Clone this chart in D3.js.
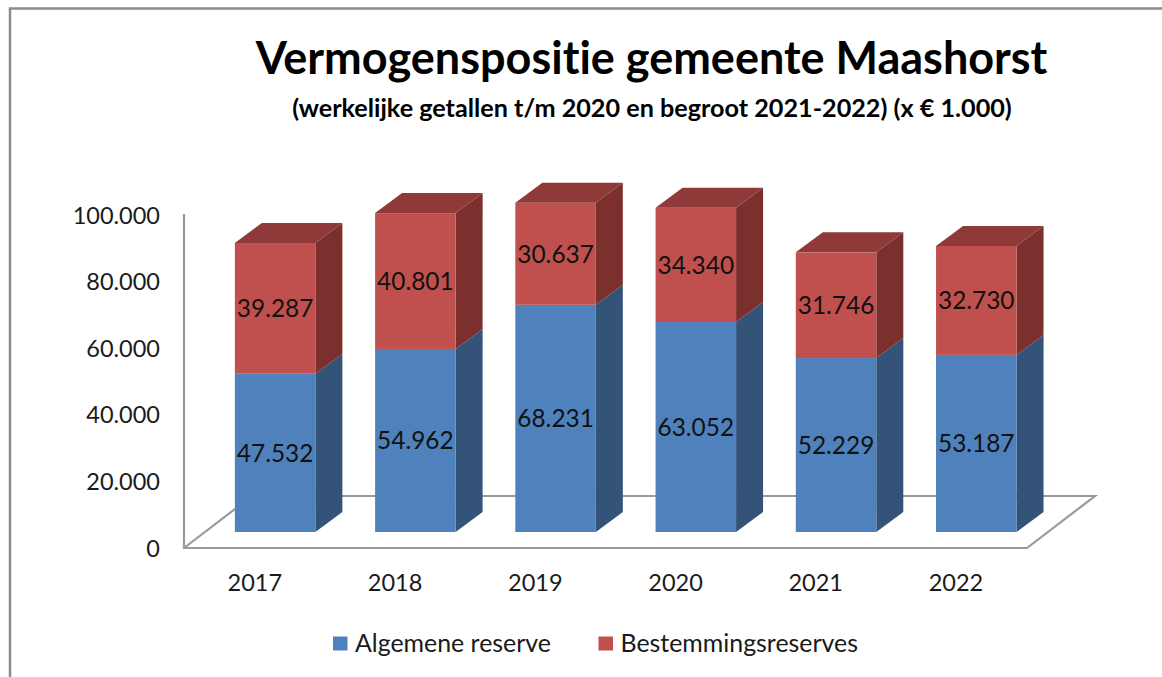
<!DOCTYPE html>
<html><head><meta charset="utf-8">
<script src="https://cdn.jsdelivr.net/npm/d3@7"></script>
<style>
html,body{margin:0;padding:0;background:#fff;overflow:hidden}
text{font-family:Lato,"Open Sans",sans-serif;fill:#1a1a1a;font-variant-ligatures:none}
</style></head><body>
<svg id="c" width="1162" height="677"></svg>
<script>
const years = ["2017","2018","2019","2020","2021","2022"];
const algemeneReserve = [47532,54962,68231,63052,52229,53187];
const bestemmingsReserves = [39287,40801,30637,34340,31746,32730];
const yTicks = [0,20000,40000,60000,80000,100000];
const seriesNames = ["Algemene reserve","Bestemmingsreserves"];
const titleText = "Vermogenspositie gemeente Maashorst";
const subtitleText = "(werkelijke getallen t/m 2020 en begroot 2021-2022) (x € 1.000)";

const colors = {front:["#4f81bd","#c0504d"],side:["#335379","#7b302e"],top:["#3f6797","#8f3a38"]};
const fmt = d3.formatLocale({decimal:",",thousands:".",grouping:[3],currency:["€",""]}).format(",");

const svg = d3.select("#c");
const y = d3.scaleLinear().domain([0,100000]).range([548,215]);
const x = d3.scaleBand().domain(years).range([184,1025.4]);
const floorRight = 1027;
const floorD = {dx:68,dy:-52};
const off = {dx:21,dy:-16};     // bar front offset from floor's front edge
const bd = {dx:27,dy:-20};      // bar depth
const barW = 80.5;
const gridCol = "#9a9a9a";

// frame
svg.append("path").attr("d","M10 677V8.5H1162").attr("fill","none").attr("stroke","#8c8c8c").attr("stroke-width",2.5);

// titles
svg.append("text").attr("x",651.5).attr("y",74).attr("text-anchor","middle")
  .style("font-size","45px").style("font-weight",700).style("fill","#000").text(titleText);
svg.append("text").attr("x",652).attr("y",117).attr("text-anchor","middle")
  .style("font-size","25.2px").style("font-weight",700).style("fill","#000").text(subtitleText);

// walls and floor
const x0=x.range()[0], y0=y(0);
svg.append("path").attr("fill","none").attr("stroke",gridCol).attr("stroke-width",2.2)
  .attr("d",`M${x0} ${y(100000)-1}V${y0}H${floorRight}L${floorRight+floorD.dx} ${y0+floorD.dy}H${x0+floorD.dx}L${x0} ${y0}`);

// y labels
svg.append("g").selectAll("text").data(yTicks).join("text")
  .attr("x",160).attr("y",d=>y(d)+8.5).attr("text-anchor","end")
  .style("font-size","23.5px").text(d=>fmt(d));

// x labels
svg.append("g").selectAll("text").data(years).join("text")
  .attr("x",d=>x(d)+x.bandwidth()/2+0.7).attr("y",591).attr("text-anchor","middle")
  .style("font-size","23.5px").text(d=>d);

// bars
const stacks = d3.stack().keys([0,1]).value((d,k)=>d[k])(years.map((_,i)=>[algemeneReserve[i],bestemmingsReserves[i]]));
const h = v => y(0)-y(v);
const g = svg.append("g");
years.forEach((yr,i)=>{
  const L = x(yr)+x.bandwidth()/2+off.dx-barW/2, R=L+barW, B=y(0)+off.dy;
  stacks.forEach((s,k)=>{
    const [a,b]=s[i];
    const yb=B-h(a), yt=B-h(b);
    g.append("path").attr("fill",colors.side[k])
      .attr("d",`M${R} ${yb}L${R+bd.dx} ${yb+bd.dy}V${yt+bd.dy}L${R} ${yt}Z`);
    g.append("rect").attr("x",L).attr("y",yt).attr("width",barW).attr("height",yb-yt).attr("fill",colors.front[k]);
  });
  const t=B-h(stacks[1][i][1]);
  g.append("path").attr("fill",colors.top[1])
    .attr("d",`M${L} ${t}L${L+bd.dx} ${t+bd.dy}H${R+bd.dx}L${R} ${t}Z`);
  stacks.forEach((s,k)=>{
    const [a,b]=s[i];
    g.append("text").attr("x",(L+R)/2).attr("y",B-h((a+b)/2)+9).attr("text-anchor","middle")
      .style("font-size","24.4px").style("fill","#111").text(fmt(b-a));
  });
});

// legend
const legendX=[333,598.5];
seriesNames.forEach((n,k)=>{
  svg.append("rect").attr("x",legendX[k]).attr("y",636.5).attr("width",14.5).attr("height",14).attr("fill",colors.front[k]);
  svg.append("text").attr("x",legendX[k]+22).attr("y",652).style("font-size","24.9px").text(n);
});
</script></body></html>
